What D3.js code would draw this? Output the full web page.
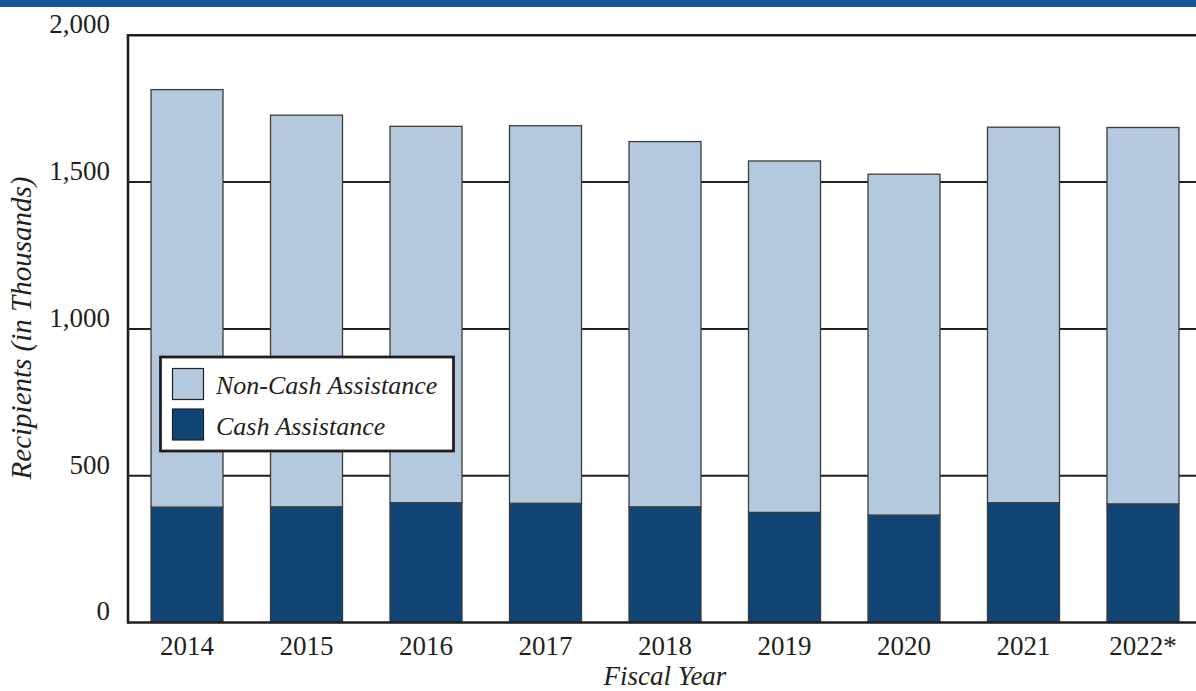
<!DOCTYPE html>
<html>
<head>
<meta charset="utf-8">
<script src="https://cdn.jsdelivr.net/npm/d3@7"></script>
<style>
  html, body { margin: 0; padding: 0; background: #fff; }
  svg { display: block; }
  text { font-family: "Liberation Serif", "Times New Roman", serif; fill: #231f20; }
</style>
</head>
<body>
<svg id="chart" width="1196" height="691"></svg>
<script>
const years = ["2014", "2015", "2016", "2017", "2018", "2019", "2020", "2021", "2022*"];
const cashAssistance = [393, 394, 408, 406, 394, 375, 366, 408, 404];
const totalRecipients = [1815, 1728, 1690, 1692, 1638, 1572, 1527, 1687, 1686];
const nonCashAssistance = totalRecipients.map((t, i) => t - cashAssistance[i]);
const yTicks = [0, 500, 1000, 1500, 2000];
const seriesNames = ["Non-Cash Assistance", "Cash Assistance"];
const seriesColors = ["#b4c9de", "#0f4474"];

(function () {
const svg = d3.select("#chart");
const W = 1196, H = 691;
const mLeft = 128, mRight = 1202, mTop = 35.3, mBottom = 622.5;
const FONT = "'Liberation Serif', 'Times New Roman', serif";

// top banner
svg.append("rect").attr("x", 0).attr("y", 0).attr("width", W).attr("height", 7).attr("fill", "#15579a");

const x = d3.scaleBand().domain(years).range([mLeft, mRight]).paddingInner(0.3975).paddingOuter(0.1925);
const y = d3.scaleLinear().domain([0, 2000]).range([mBottom, mTop]);

// gridlines
svg.append("g").selectAll("line").data(yTicks.filter(d => d > 0 && d < 2000)).join("line")
  .attr("x1", mLeft).attr("x2", W).attr("y1", d => y(d)).attr("y2", d => y(d))
  .attr("stroke", "#231f20").attr("stroke-width", 2);

// stacked data
const rows = years.map((yr, i) => ({ year: yr, cash: cashAssistance[i], noncash: nonCashAssistance[i] }));
const stack = d3.stack().keys(["cash", "noncash"])(rows);
const colorByKey = { cash: seriesColors[1], noncash: seriesColors[0] };

svg.append("g").selectAll("g").data(stack).join("g")
  .attr("fill", d => colorByKey[d.key])
  .selectAll("rect").data(d => d).join("rect")
  .attr("x", d => x(d.data.year))
  .attr("width", x.bandwidth())
  .attr("y", d => y(d[1]))
  .attr("height", d => y(d[0]) - y(d[1]))
  .attr("stroke", "#3c3c3c")
  .attr("stroke-width", 1.3);

// frame: left, top, bottom
svg.append("line").attr("x1", mLeft).attr("x2", W).attr("y1", mTop).attr("y2", mTop)
  .attr("stroke", "#231f20").attr("stroke-width", 2.6);
svg.append("line").attr("x1", mLeft).attr("x2", W).attr("y1", mBottom).attr("y2", mBottom)
  .attr("stroke", "#231f20").attr("stroke-width", 2.6);
svg.append("line").attr("x1", mLeft).attr("x2", mLeft).attr("y1", mTop - 1.3).attr("y2", mBottom + 1.3)
  .attr("stroke", "#231f20").attr("stroke-width", 2.6);

// y axis tick labels
const yAxis = d3.axisLeft(y).tickValues(yTicks).tickSize(0).tickPadding(0)
  .tickFormat(d3.format(","));
const gy = svg.append("g").attr("transform", `translate(${110},0)`).call(yAxis);
gy.select(".domain").remove();
gy.selectAll("text").style("font-size", "27px").style("font-family", FONT)
  .style("fill", "#231f20").attr("dy", "-0.1em").attr("text-anchor", "end");

// x axis labels
const xAxis = d3.axisBottom(x).tickSize(0).tickPadding(0);
const gx = svg.append("g").attr("transform", `translate(0,${mBottom})`).call(xAxis);
gx.select(".domain").remove();
gx.selectAll("text").style("font-size", "27px").style("font-family", FONT)
  .style("fill", "#231f20").attr("dy", null).attr("y", 32.5);

// axis titles
svg.append("text").attr("x", 665).attr("y", 685).attr("text-anchor", "middle")
  .style("font-size", "27px").style("font-style", "italic").text("Fiscal Year");
svg.append("text").attr("transform", "translate(31,328) rotate(-90)").attr("text-anchor", "middle")
  .style("font-size", "29px").style("font-style", "italic").text("Recipients (in Thousands)");

// legend
const lg = svg.append("g");
lg.append("rect").attr("x", 160.5).attr("y", 357).attr("width", 293).attr("height", 94)
  .attr("fill", "#fff").attr("stroke", "#231f20").attr("stroke-width", 2.8);
const items = lg.selectAll("g.item").data(seriesNames).join("g").attr("class", "item")
  .attr("transform", (d, i) => `translate(0,${i * 40.5})`);
items.append("rect").attr("x", 172.5).attr("y", 368.5).attr("width", 31).attr("height", 31)
  .attr("fill", (d, i) => seriesColors[i]).attr("stroke", "#231f20").attr("stroke-width", 1.2);
items.append("text").attr("x", 216).attr("y", 394).style("font-size", "26px").style("font-style", "italic")
  .text(d => d);
})();
</script>
</body>
</html>
